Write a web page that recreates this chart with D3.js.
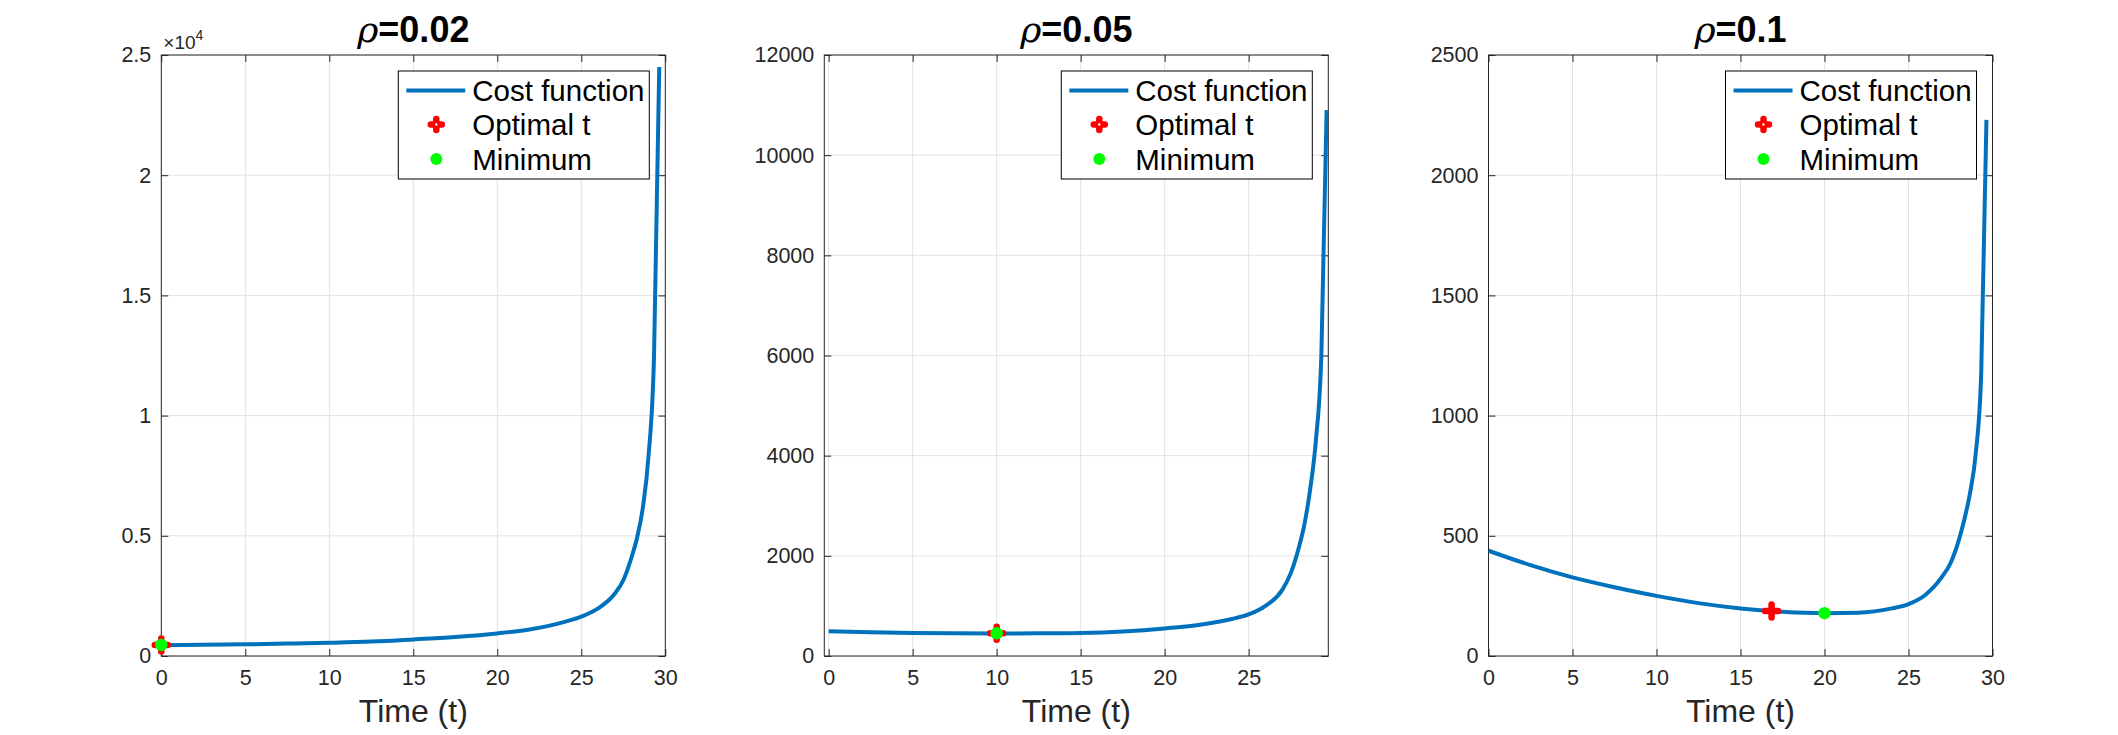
<!DOCTYPE html>
<html>
<head>
<meta charset="utf-8">
<script src="https://cdn.jsdelivr.net/npm/d3@7"></script>
<style>
  html, body { margin: 0; padding: 0; background: #fff; }
  svg { display: block; }
  text { font-family: "Liberation Sans", Arial, Helvetica, sans-serif; }
</style>
</head>
<body>
<svg id="chart" width="2118" height="735"></svg>
<script>
// ---------- data ----------
const titles = ["0.02", "0.05", "0.1"];
const timeSamples = [0, 2.5, 5, 7.5, 10, 12.5, 15, 17.5, 20, 22, 24, 25, 26, 27, 27.5, 28, 28.33, 28.67, 29, 29.33, 29.64];
const cost1 = [450, 465, 485, 515, 550, 600, 690, 795, 940, 1110, 1420, 1640, 1980, 2600, 3150, 4130, 4950, 6200, 8300, 12500, 24500];
const cost2 = [495, 475, 460, 452, 450, 452, 460, 490, 550, 620, 740, 830, 1000, 1320, 1650, 2180, 2650, 3350, 4300, 6050, 10900];
const cost3 = [438, 378, 327, 286, 250, 220, 198, 184, 178, 180, 198, 216, 254, 330, 386, 483, 570, 680, 840, 1180, 2230];
const optimalT = [0, 10, 16.85];
const optimalCost = [458, 453, 187];
const minimumT = [0, 10, 20];
const minimumCost = [458, 453, 178];
const xDomains = [[0, 30], [-0.26, 29.74], [0, 30]];
const yDomains = [[0, 25000], [0, 12000], [0, 2500]];
const xTickValues = [[0, 5, 10, 15, 20, 25, 30], [0, 5, 10, 15, 20, 25], [0, 5, 10, 15, 20, 25, 30]];
const yTickValues = [[0, 5000, 10000, 15000, 20000, 25000], [0, 2000, 4000, 6000, 8000, 10000, 12000], [0, 500, 1000, 1500, 2000, 2500]];
const yTickLabels = [["0", "0.5", "1", "1.5", "2", "2.5"], null, null];
const legendLabels = ["Cost function", "Optimal t", "Minimum"];
const costs = [cost1, cost2, cost3];

// ---------- layout ----------
const svg = d3.select("#chart");
const axLefts = [161.3, 824.3, 1488.5];
const axW = 504, axTop = 55, axBottom = 656;
const blue = "#0072BD", red = "#FF0000", green = "#00FF00", axisCol = "#262626", gridCol = "#E3E3E3";

function plusPath(cx, cy, a) {
  return `M${cx - a},${cy}L${cx + a},${cy}M${cx},${cy - a}L${cx},${cy + a}`;
}

for (let p = 0; p < 3; p++) {
  const x0 = axLefts[p], x1 = x0 + axW;
  const xs = d3.scaleLinear().domain(xDomains[p]).range([x0, x1]);
  const ys = d3.scaleLinear().domain(yDomains[p]).range([axBottom, axTop]);
  const g = svg.append("g");

  // grid
  g.selectAll(".vg").data(xTickValues[p]).join("line")
    .attr("x1", d => xs(d)).attr("x2", d => xs(d))
    .attr("y1", axTop).attr("y2", axBottom)
    .attr("stroke", gridCol).attr("stroke-width", 1);
  g.selectAll(".hg").data(yTickValues[p]).join("line")
    .attr("x1", x0).attr("x2", x1)
    .attr("y1", d => ys(d)).attr("y2", d => ys(d))
    .attr("stroke", gridCol).attr("stroke-width", 1);

  // axes with inward ticks (bottom/left labelled, top/right unlabelled)
  const tickLen = 7;
  const fmtY = yTickLabels[p] ? ((d, i) => yTickLabels[p][i]) : d3.format("d");
  const bottomAx = d3.axisBottom(xs).tickValues(xTickValues[p]).tickSizeInner(-tickLen).tickSizeOuter(0).tickPadding(14).tickFormat(d3.format("d"));
  const topAx = d3.axisTop(xs).tickValues(xTickValues[p]).tickSizeInner(-tickLen).tickSizeOuter(0).tickFormat("");
  const leftAx = d3.axisLeft(ys).tickValues(yTickValues[p]).tickSizeInner(-tickLen).tickSizeOuter(0).tickPadding(10).tickFormat(fmtY);
  const rightAx = d3.axisRight(ys).tickValues(yTickValues[p]).tickSizeInner(-tickLen).tickSizeOuter(0).tickFormat("");

  const styleAx = sel => {
    sel.select(".domain").remove();
    sel.selectAll(".tick line").attr("stroke", axisCol).attr("stroke-width", 1);
    sel.selectAll(".tick text").attr("fill", axisCol).style("font-size", "21.5px")
      .style("font-family", '"Liberation Sans", Arial, Helvetica, sans-serif');
  };
  g.append("g").attr("transform", `translate(0,${axBottom})`).call(bottomAx).call(styleAx)
    .selectAll(".tick text").attr("dy", "0.71em");
  g.append("g").attr("transform", `translate(0,${axTop})`).call(topAx).call(styleAx);
  g.append("g").attr("transform", `translate(${x0},0)`).call(leftAx).call(styleAx);
  g.append("g").attr("transform", `translate(${x1},0)`).call(rightAx).call(styleAx);

  // box
  g.append("rect").attr("x", x0).attr("y", axTop).attr("width", axW).attr("height", axBottom - axTop)
    .attr("fill", "none").attr("stroke", axisCol).attr("stroke-width", 1);

  // clip
  const clipId = "clip" + p;
  svg.append("clipPath").attr("id", clipId).append("rect")
    .attr("x", x0).attr("y", axTop - 2).attr("width", axW).attr("height", axBottom - axTop + 4);

  // cost curve
  const pts = timeSamples.map((t, i) => [t, costs[p][i]]);
  const line = d3.line().x(d => xs(d[0])).y(d => ys(d[1])).curve(d3.curveMonotoneX);
  g.append("path").datum(pts).attr("d", line)
    .attr("fill", "none").attr("stroke", blue).attr("stroke-width", 4)
    .attr("stroke-linejoin", "round").attr("clip-path", `url(#${clipId})`);

  // optimal t marker
  g.append("path").attr("d", plusPath(xs(optimalT[p]), ys(optimalCost[p]), 6.5))
    .attr("stroke", red).attr("stroke-width", 6.5).attr("stroke-linecap", "round").attr("fill", "none");
  // minimum marker
  g.append("circle").attr("cx", xs(minimumT[p])).attr("cy", ys(minimumCost[p])).attr("r", 6.2)
    .attr("fill", green);

  // title
  const cx = (x0 + x1) / 2;
  const title = g.append("text").attr("x", cx).attr("y", 42).attr("text-anchor", "middle")
    .attr("fill", "#000").style("font-size", "36px").style("font-weight", "bold");
  title.append("tspan").text("ρ").style("font-style", "italic").style("font-weight", "normal")
    .style("font-family", '"DejaVu Serif", "Liberation Serif", serif');
  title.append("tspan").text("=" + titles[p]);

  // x label
  g.append("text").attr("x", cx).attr("y", 722).attr("text-anchor", "middle")
    .attr("fill", axisCol).style("font-size", "32px").text("Time (t)");

  // exponent label for first panel
  if (p === 0) {
    const ex = g.append("text").attr("x", x0 + 2).attr("y", 49).attr("fill", axisCol).style("font-size", "19px");
    ex.append("tspan").text("×10");
    ex.append("tspan").text("4").attr("dy", -9).style("font-size", "14px");
  }

  // legend
  const lw = 251, lh = 108;
  const lx = x1 - 16 - lw, ly = axTop + 16;
  const lg = g.append("g").attr("transform", `translate(${lx},${ly})`);
  lg.append("rect").attr("width", lw).attr("height", lh).attr("fill", "#fff")
    .attr("stroke", "#000").attr("stroke-width", 1);
  const rows = [19.5, 53.5, 88];
  lg.append("line").attr("x1", 8).attr("x2", 67).attr("y1", rows[0]).attr("y2", rows[0])
    .attr("stroke", blue).attr("stroke-width", 4);
  lg.append("path").attr("d", plusPath(38, rows[1], 5.5))
    .attr("stroke", red).attr("stroke-width", 6.5).attr("stroke-linecap", "round").attr("fill", "none");
  lg.append("circle").attr("cx", 38).attr("cy", rows[1]).attr("r", 1.2).attr("fill", "#fff");
  lg.append("circle").attr("cx", 38).attr("cy", rows[2]).attr("r", 6).attr("fill", green);
  legendLabels.forEach((lab, i) => {
    lg.append("text").attr("x", 74).attr("y", rows[i]).attr("dy", "0.36em")
      .attr("fill", "#000").style("font-size", "29.5px").text(lab);
  });
}
</script>
</body>
</html>
